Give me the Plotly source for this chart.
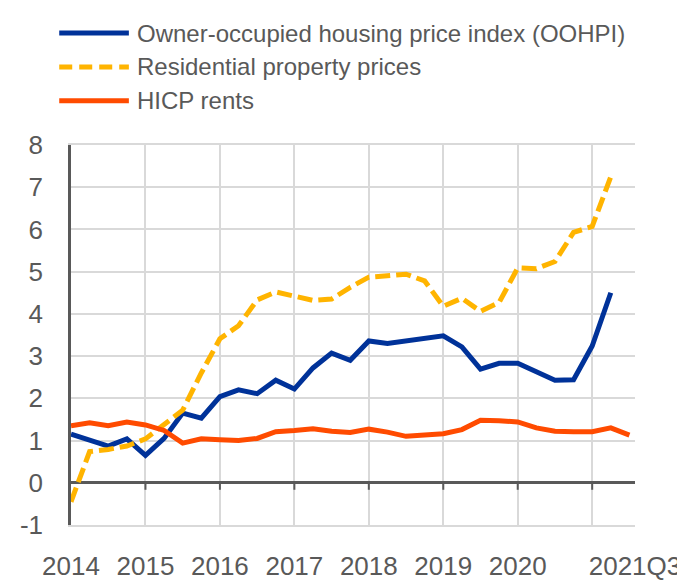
import plotly.graph_objects as go

# ---------------- data ----------------
quarters = [f"{y}Q{q}" for y in range(2014, 2022) for q in range(1, 5)][:31]

oohpi = [1.15, 1.00, 0.87, 1.04, 0.65, 1.05, 1.65, 1.53, 2.04, 2.20, 2.11,
         2.43, 2.22, 2.72, 3.07, 2.90, 3.36, 3.30, 3.37, 3.44, 3.48,
         3.22, 2.69, 2.83, 2.83, 2.63, 2.43, 2.44, 3.24, 4.50, None]

rpp = [-0.45, 0.74, 0.79, 0.87, 1.04, 1.37, 1.72, 2.60, 3.41, 3.72, 4.33,
       4.52, 4.41, 4.32, 4.35, 4.63, 4.87, 4.90, 4.94, 4.78, 4.18,
       4.37, 4.06, 4.27, 5.09, 5.07, 5.24, 5.93, 6.07, 7.25, None]

hicp_rents = [1.35, 1.42, 1.35, 1.44, 1.37, 1.24, 0.94, 1.04, 1.02, 1.00, 1.05,
              1.21, 1.24, 1.28, 1.22, 1.19, 1.27, 1.20, 1.10, 1.13, 1.16,
              1.26, 1.48, 1.47, 1.44, 1.30, 1.22, 1.21, 1.21, 1.30, 1.13]

series_names = ["Owner-occupied housing price index (OOHPI)",
                "Residential property prices",
                "HICP rents"]

year_labels = ["2014", "2015", "2016", "2017", "2018", "2019", "2020", ""]
last_label = "2021Q3"
y_ticks = [-1, 0, 1, 2, 3, 4, 5, 6, 7, 8]

# ---------------- style ----------------
W, H = 685, 585
L, R, T, B = 61, 49, 137, 44
PW, PH = W - L - R, H - T - B
X_END = 30.3
BLUE, YELLOW, ORANGE = "#003299", "#FFB400", "#FF4B00"
GREY_TXT = "#595959"
GRID = "#d9d9d9"
FONT = "Arial, 'Liberation Sans', sans-serif"

x = list(range(len(quarters)))
year_pos = [quarters.index(f"{2014 + i}Q1") for i in range(len(year_labels))]

fig = go.Figure()
fig.add_trace(go.Scatter(x=x, y=oohpi, mode="lines", name=series_names[0],
                         line=dict(color=BLUE, width=5)))
fig.add_trace(go.Scatter(x=x, y=rpp, mode="lines", name=series_names[1],
                         line=dict(color=YELLOW, width=5, dash="15px,6px")))
fig.add_trace(go.Scatter(x=x, y=hicp_rents, mode="lines", name=series_names[2],
                         line=dict(color=ORANGE, width=5)))

fig.update_layout(
    width=W, height=H,
    margin=dict(l=L, r=R, t=T, b=B),
    paper_bgcolor="white", plot_bgcolor="white",
    showlegend=False,
    font=dict(family=FONT, color=GREY_TXT),
)

fig.update_xaxes(
    range=[0, X_END],
    tickvals=year_pos + [X_END - 0.001], ticktext=year_labels + [last_label],
    showgrid=True, gridcolor=GRID, gridwidth=1.5,
    showline=True, linecolor=GRID, linewidth=1.5, mirror=True,
    ticks="outside", ticklen=17, tickcolor="rgba(0,0,0,0)",
    tickfont=dict(size=26, color=GREY_TXT, family=FONT),
    zeroline=False,
)
fig.update_yaxes(
    range=[-1, 8],
    tickvals=y_ticks, ticktext=[str(v) for v in y_ticks],
    showgrid=True, gridcolor=GRID, gridwidth=1.5,
    showline=True, linecolor=GREY_TXT, linewidth=2.5,
    zeroline=True, zerolinecolor=GREY_TXT, zerolinewidth=2.5,
    ticks="outside", ticklen=20, tickcolor="rgba(0,0,0,0)",
    tickfont=dict(size=26, color=GREY_TXT, family=FONT),
)

shapes = []
# tick marks on the zero line
for p in year_pos[1:]:
    shapes.append(dict(type="line", xref="x", yref="y", ysizemode="pixel", yanchor=0,
                       x0=p, x1=p, y0=0, y1=-7, line=dict(color=GREY_TXT, width=2)))

# manual legend
def px_x(v):
    return (v - L) / PW

def px_y(v):
    return (H - B - v) / PH

rows = [18, 54, 90]
styles = [dict(color=BLUE, width=5), dict(color=YELLOW, width=5, dash="13px,7px"),
          dict(color=ORANGE, width=5)]
annotations = []
for name, ry, st in zip(series_names, rows, styles):
    shapes.append(dict(type="line", xref="paper", yref="paper",
                       x0=px_x(49), x1=px_x(120), y0=px_y(ry), y1=px_y(ry), line=st))
    annotations.append(dict(xref="paper", yref="paper", x=px_x(126), y=px_y(ry),
                            xanchor="left", yanchor="middle", showarrow=False,
                            text=name, font=dict(size=24, color=GREY_TXT, family=FONT)))

fig.update_layout(shapes=shapes, annotations=annotations)
fig.write_html("out.html")
